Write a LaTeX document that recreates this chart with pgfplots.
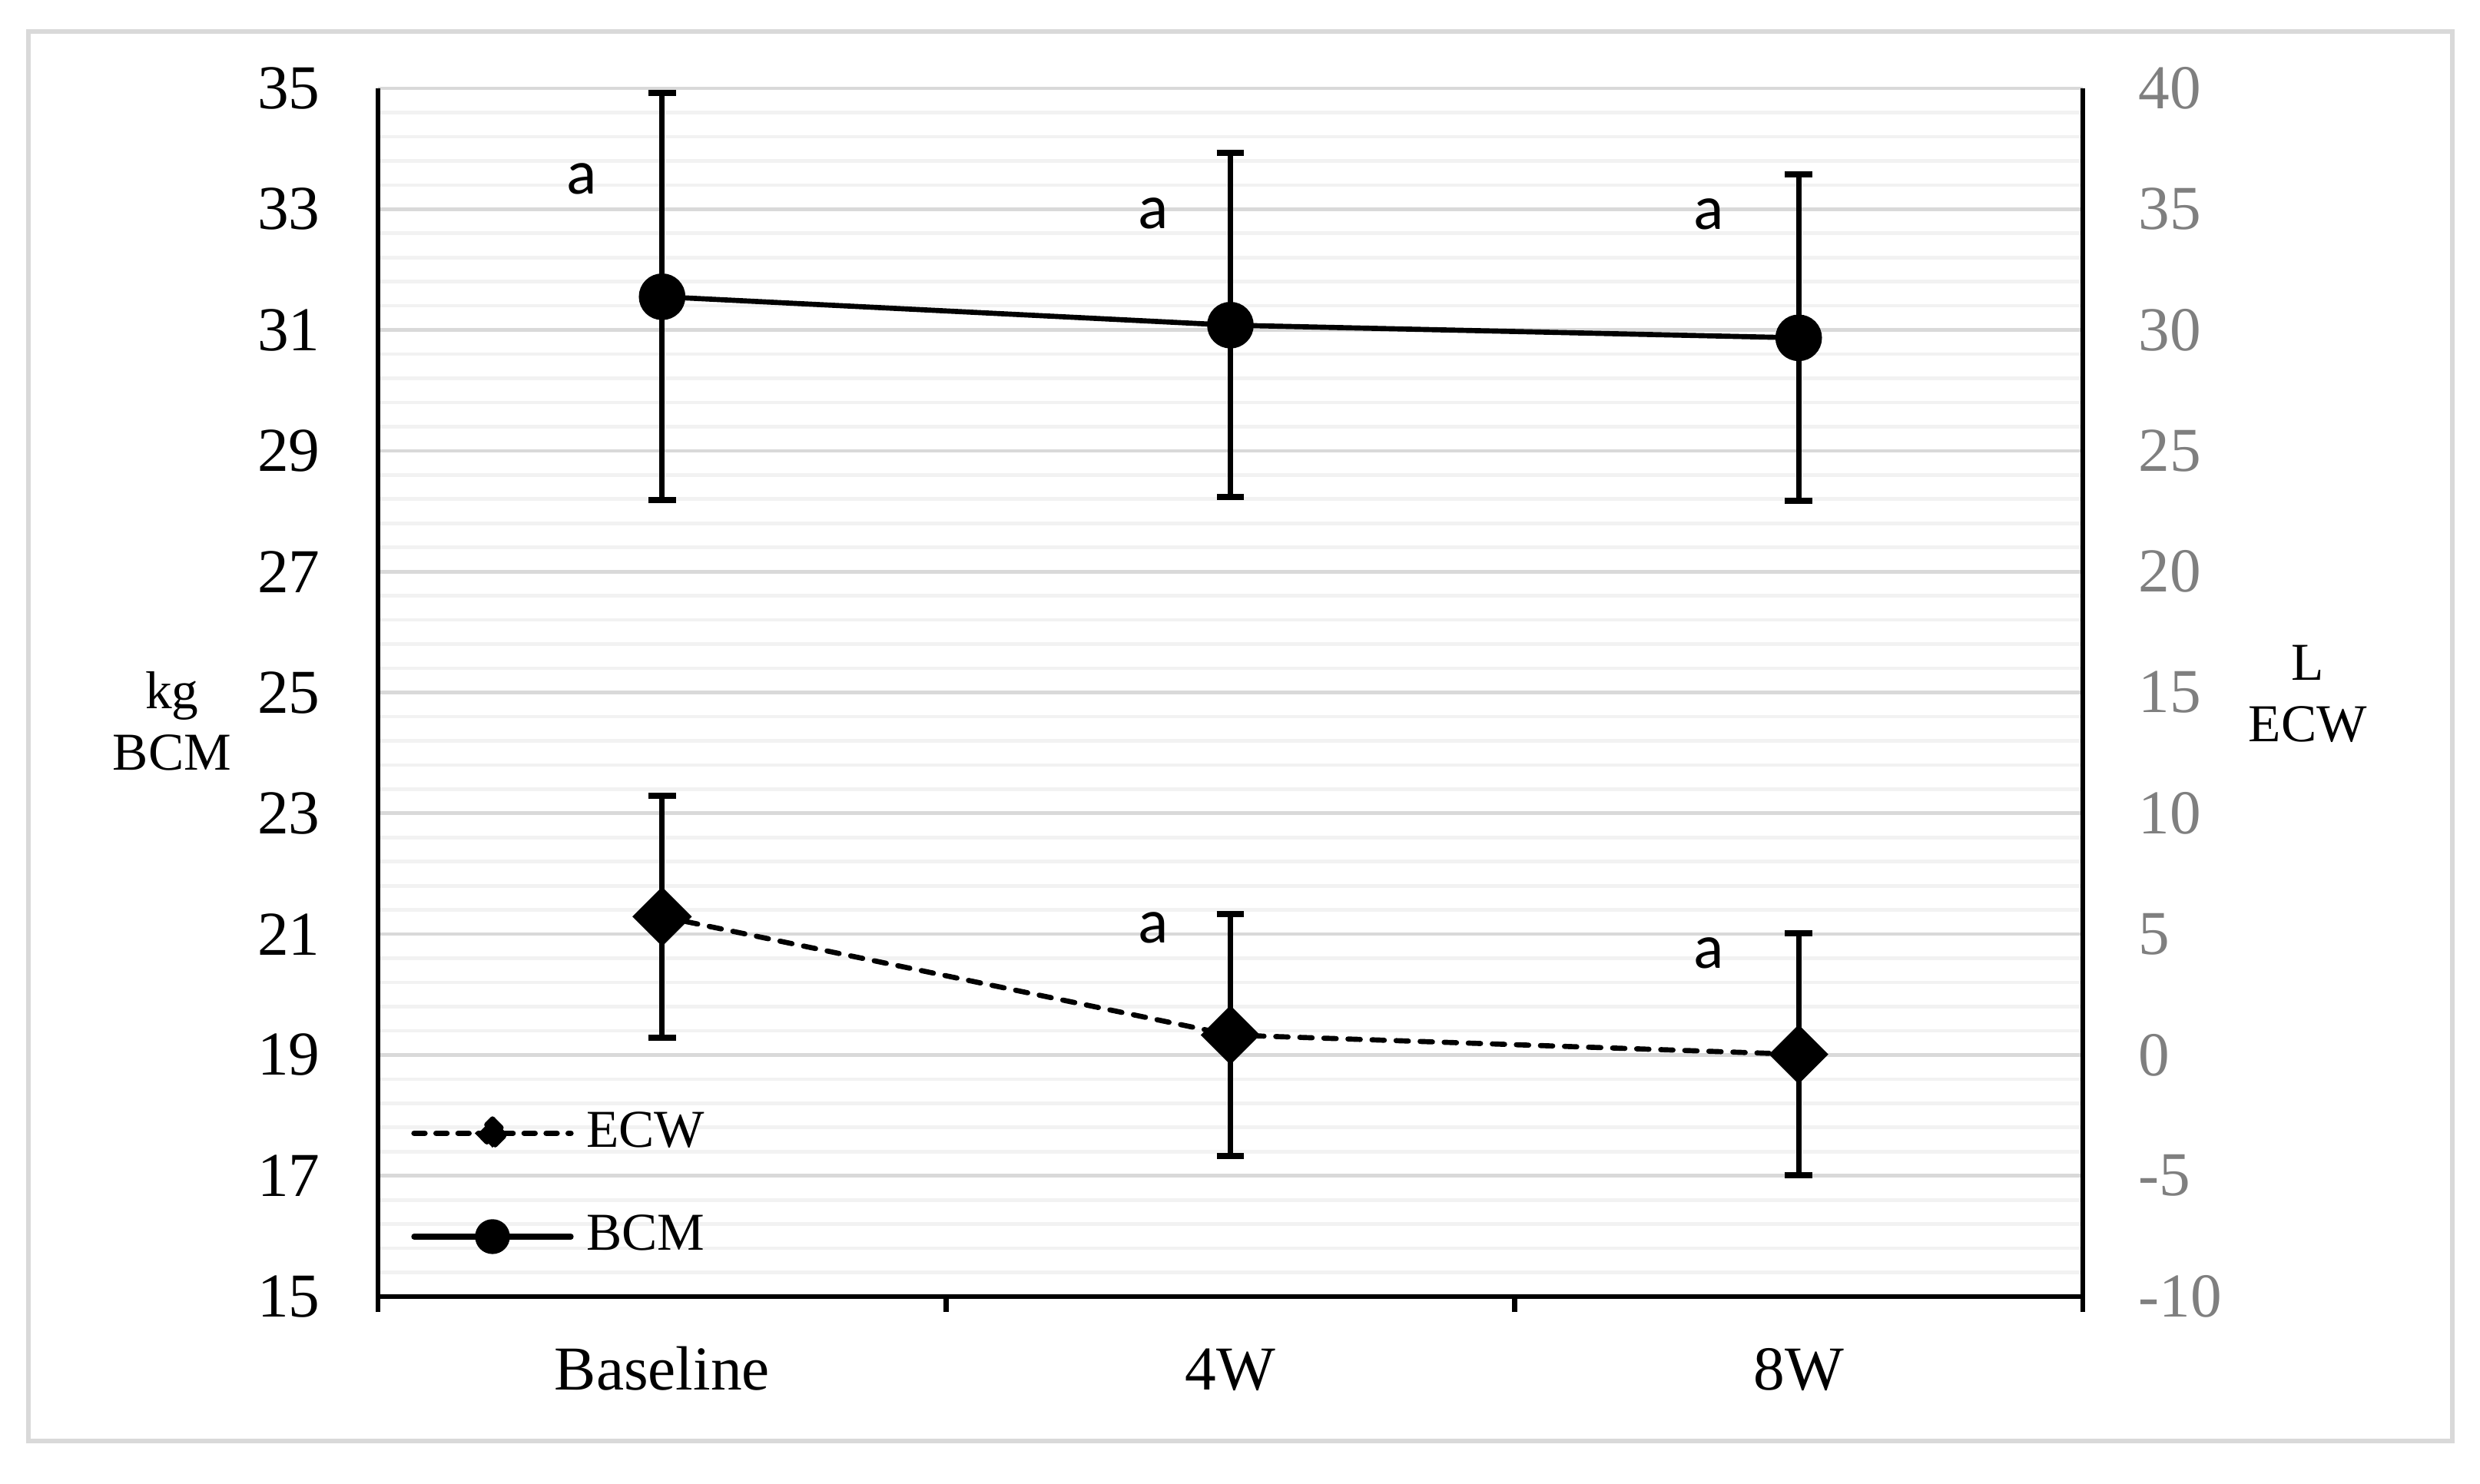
\documentclass[border=0pt]{standalone}
\usepackage{fontspec}
\setmainfont{Liberation Serif}
\newfontfamily\carlito{Carlito}
\usepackage{pgfplots}
\pgfplotsset{compat=1.18}
\definecolor{majgrid}{HTML}{D9D9D9}
\definecolor{mingrid}{HTML}{F2F2F2}
\definecolor{ticklab}{HTML}{7F7F7F}
\definecolor{framecol}{HTML}{D9D9D9}

\begin{document}
\begin{tikzpicture}
\useasboundingbox (-73.8pt,-36.45pt) rectangle (410.4pt,253.2pt);
\draw[framecol, line width=0.8pt] (-68.25pt,-28.2pt) rectangle (405pt,247.05pt);
\begin{axis}[
  at={(0pt,0pt)}, anchor=south west,
  scale only axis, width=332.85pt, height=235.95pt,
  xmin=0, xmax=3, ymin=15, ymax=35,
  axis x line=bottom, axis y line=left,
  axis line style={-, line width=1pt, black},
  xtick={0.5,1.5,2.5}, xticklabels={Baseline,4W,8W},
  major tick length=0pt, minor tick length=0pt,
  extra x ticks={0,1,2,3}, extra x tick labels={},
  extra x tick style={tick align=outside, major tick length=3pt, major tick style={line width=1pt, black}, grid=none},
  xticklabel style={font=\fontsize{12.2}{14}\selectfont, anchor=base, inner sep=0pt, yshift=-18.15pt},
  ytick={15,17,...,35},
  yticklabels={15,17,19,21,23,25,27,29,31,33,35},
  minor y tick num=4,
  ymajorgrids, yminorgrids,
  major grid style={majgrid, line width=0.7pt},
  minor grid style={mingrid, line width=0.7pt},
  yticklabel style={font=\fontsize{12.2}{14}\selectfont, anchor=east, inner sep=0pt, xshift=-11.1pt},
  every axis y label/.style={at={(axis description cs:-0.1208,0.4766)}, anchor=center, align=center, font=\fontsize{10.4}{12}\selectfont},
  ylabel={kg\\BCM},
  legend style={at={(axis description cs:0.01893,0.0924)}, anchor=west, draw=none, fill=none, inner sep=0pt,
    nodes={inner sep=0pt, anchor=west}, row sep=11.8pt, column sep=2.5pt, font=\fontsize{10.4}{12}\selectfont},
  legend cell align=left,
  clip=false,
]
\addplot[black, line width=1pt, dash pattern=on 2.4pt off 2.3pt, line cap=round,
  mark=square*, mark size=3.6pt, mark options={solid, rotate=45, fill=black},
  legend image code/.code={%
    \draw[black, line width=1.1pt, dash pattern=on 2.1pt off 2.2pt, line cap=round] (0pt,0pt) -- (30.6pt,0pt);
    \fill[black] (15.3pt,2.8pt) -- (18.05pt,0pt) -- (15.3pt,-2.8pt) -- (12.55pt,0pt) -- cycle;},
  error bars/.cd, y dir=both, y explicit,
  error bar style={solid, line width=1pt, black, line cap=butt},
  error mark=|, error mark options={solid, line width=1.2pt, mark size=2.67pt, line cap=butt}]
  coordinates {(0.5,21.29) +- (0,2.0) (1.5,19.33) +- (0,2.0) (2.5,19.01) +- (0,2.0)};
\addlegendentry{ECW}
\addplot[black, line width=1pt, solid,
  mark=*, mark size=4.05pt, mark options={solid, fill=black},
  legend image code/.code={%
    \draw[black, line width=1.1pt, line cap=round] (0pt,0pt) -- (30.6pt,0pt);
    \fill[black] (15.3pt,0pt) circle[radius=2.9pt];},
  error bars/.cd, y dir=both, y explicit,
  error bar style={solid, line width=1pt, black, line cap=butt},
  error mark=|, error mark options={solid, line width=1.2pt, mark size=2.67pt, line cap=butt}]
  coordinates {(0.5,31.55) +- (0,3.37) (1.5,31.08) +- (0,2.85) (2.5,30.87) +- (0,2.70)};
\addlegendentry{BCM}
\node[font=\carlito\fontsize{12.3}{14}\selectfont, inner sep=0pt, anchor=center] at (axis cs:0.359,33.50) {a};
\node[font=\carlito\fontsize{12.3}{14}\selectfont, inner sep=0pt, anchor=center] at (axis cs:1.364,32.93) {a};
\node[font=\carlito\fontsize{12.3}{14}\selectfont, inner sep=0pt, anchor=center] at (axis cs:2.342,32.91) {a};
\node[font=\carlito\fontsize{12.3}{14}\selectfont, inner sep=0pt, anchor=center] at (axis cs:1.364,21.10) {a};
\node[font=\carlito\fontsize{12.3}{14}\selectfont, inner sep=0pt, anchor=center] at (axis cs:2.342,20.69) {a};
\end{axis}
\begin{axis}[
  at={(0pt,0pt)}, anchor=south west,
  scale only axis, width=332.85pt, height=235.95pt,
  xmin=0, xmax=3, ymin=-10, ymax=40,
  axis x line=none, axis y line=right,
  axis line style={-, line width=1pt, black},
  major tick length=0pt, minor tick length=0pt,
  ytick={-10,-5,...,40},
  yticklabels={-10,-5,0,5,10,15,20,25,30,35,40},
  yticklabel style={font=\fontsize{12.2}{14}\selectfont, text=ticklab, anchor=west, inner sep=0pt, xshift=10.65pt},
  every axis y label/.style={at={(axis description cs:1.1320,0.4986)}, anchor=center, align=center, font=\fontsize{10.4}{12}\selectfont},
  ylabel={L\\ECW},
]
\end{axis}
\end{tikzpicture}
\end{document}
